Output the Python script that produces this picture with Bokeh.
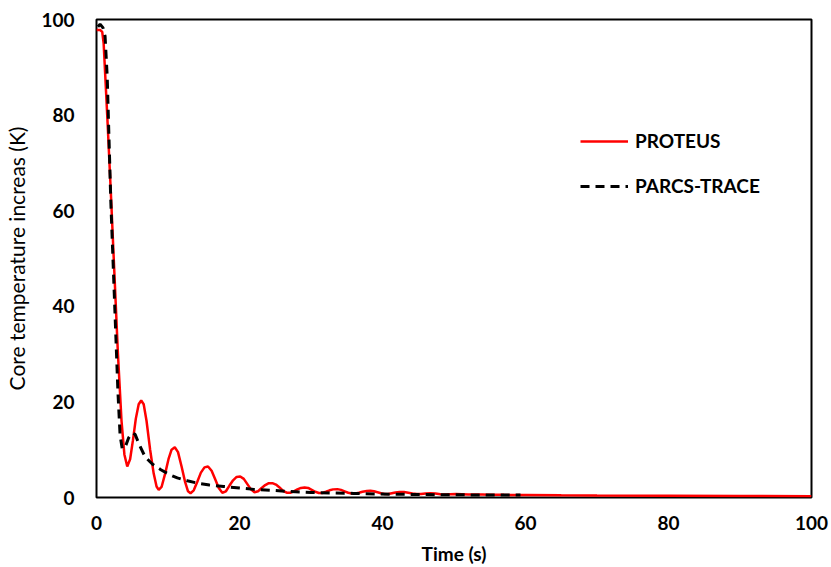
from bokeh.plotting import figure
from bokeh.models import Range1d, FixedTicker, Legend, LegendItem
from bokeh.embed import file_html
from bokeh.resources import INLINE

# PROTEUS (red solid)
proteus_t = [0, 0.5, 0.8, 1.0, 1.5, 2.0, 2.5, 3.0, 3.5, 3.9, 4.3, 4.7, 5.1, 5.5, 5.9, 6.25, 6.6,
             7.0, 7.5, 8.0, 8.4, 8.7, 9.1, 9.6, 10.1, 10.5, 10.95, 11.4, 11.9, 12.4, 12.8, 13.15,
             13.6, 14.1, 14.6, 15.1, 15.6, 16.1, 16.6, 17.1, 17.6, 18.1, 18.6, 19.1, 19.6, 20.1,
             20.6, 21.1, 21.6, 22.1, 22.6, 23.1, 23.6, 24.1, 24.6, 25.1, 25.6, 26.1, 26.6, 27.1,
             27.6, 28.1, 28.6, 29.1, 29.6, 30.1, 30.6, 31.1, 31.6, 32.1, 32.6, 33.1, 33.7, 34.2,
             34.7, 35.2, 35.7, 36.2, 36.7, 37.2, 37.8, 38.3, 38.8, 39.3, 39.8, 40.3, 40.8, 41.3,
             41.8, 42.4, 43.0, 43.6, 44.2, 44.8, 45.4, 46.0, 46.7, 47.4, 48.1, 48.8, 49.5, 50.3,
             51.1, 52, 53, 54, 55, 57, 60, 65, 70, 80, 90, 100]
proteus_v = [97.8, 97.8, 97.4, 95, 80, 64, 47, 30, 16, 9, 6.5, 8, 12, 16.5, 19.5, 20.3, 19.5,
             16, 10, 5, 2.3, 1.6, 2.2, 5, 8.2, 10, 10.5, 9.5, 6.5, 3.2, 1.3, 0.9,
             1.5, 3.3, 5.2, 6.3, 6.5, 5.6, 3.8, 2.0, 1.0, 1.3, 2.5, 3.6, 4.3, 4.4,
             3.9, 2.8, 1.7, 1.1, 1.3, 2.0, 2.6, 3.0, 3.0, 2.7, 2.1, 1.4, 1.0, 1.0,
             1.3, 1.7, 2.0, 2.1, 2.0, 1.6, 1.2, 0.95, 0.95, 1.2, 1.5, 1.7, 1.75, 1.6,
             1.3, 1.0, 0.85, 0.85, 1.0, 1.2, 1.35, 1.4, 1.3, 1.1, 0.9, 0.75, 0.75, 0.9,
             1.05, 1.15, 1.15, 1.0, 0.85, 0.72, 0.75, 0.85, 0.9, 0.85, 0.7, 0.65, 0.7, 0.75,
             0.7, 0.62, 0.62, 0.65, 0.6, 0.55, 0.52, 0.45, 0.4, 0.35, 0.3, 0.28]

# PARCS-TRACE (black dashed)
parcs_t = [0.2, 0.5, 0.9, 1.2, 1.5, 2.0, 2.5, 3.0, 3.3, 3.6, 4.0, 4.5, 5.0, 5.4, 6.0, 6.8, 7.8,
           9.0, 10.2, 11.3, 12.7, 14.1, 15.8, 17.8, 20, 22, 24.5, 27.1, 30, 33, 36, 39, 42, 45,
           48, 52, 56, 59.3]
parcs_v = [98.5, 99.0, 98.3, 96.5, 88, 62, 42, 22, 13, 10.2, 10.5, 12.5, 13.5, 13.2, 11, 8.5, 7,
           5.8, 4.8, 4.1, 3.5, 3.0, 2.6, 2.3, 2.0, 1.7, 1.5, 1.25, 1.05, 0.95, 0.85, 0.75, 0.68,
           0.62, 0.58, 0.55, 0.52, 0.5]

x_ticks = [0, 20, 40, 60, 80, 100]
y_ticks = [0, 20, 40, 60, 80, 100]

FONT = "Lato"

p = figure(width=831, height=567, output_backend="svg", toolbar_location=None,
           x_range=Range1d(0, 100), y_range=Range1d(0, 100),
           min_border_left=96, min_border_right=20, min_border_top=19, min_border_bottom=69)
p.background_fill_color = "white"
p.border_fill_color = "white"
p.outline_line_color = "black"
p.outline_line_width = 2
p.xgrid.visible = False
p.ygrid.visible = False

for ax, ticks in ((p.xaxis[0], x_ticks), (p.yaxis[0], y_ticks)):
    ax.ticker = FixedTicker(ticks=ticks)
    ax.axis_line_color = None
    ax.major_tick_line_color = None
    ax.minor_tick_line_color = None
    ax.major_tick_out = 0
    ax.major_tick_in = 0
    ax.major_label_text_font = FONT
    ax.major_label_text_font_style = "bold"
    ax.major_label_text_font_size = "19px"
    ax.major_label_text_color = "black"
    ax.axis_label_text_font = FONT
    ax.axis_label_text_color = "black"

p.xaxis.major_label_standoff = 18
p.xaxis.axis_label = "Time (s)"
p.xaxis.axis_label_text_font_style = "bold"
p.xaxis.axis_label_text_font_size = "19px"
p.xaxis.axis_label_standoff = 9
p.yaxis.major_label_standoff = 22
p.yaxis.axis_label = "Core temperature increas (K)"
p.yaxis.axis_label_text_font_style = "normal"
p.yaxis.axis_label_text_font_size = "21px"
p.yaxis.axis_label_standoff = 9

r1 = p.line(proteus_t, proteus_v, line_color="#FF0000", line_width=2.5)
r2 = p.line(parcs_t, parcs_v, line_color="black", line_width=3, line_dash="9 6")

legend = Legend(items=[LegendItem(label="PROTEUS", renderers=[r1]),
                       LegendItem(label="PARCS-TRACE", renderers=[r2])],
                location=(484, 300), orientation="vertical")
legend.border_line_color = None
legend.background_fill_alpha = 0
legend.label_text_font = FONT
legend.label_text_font_style = "bold"
legend.label_text_font_size = "19px"
legend.label_text_color = "black"
legend.glyph_width = 48
legend.glyph_height = 20
legend.label_height = 20
legend.label_standoff = 7
legend.spacing = 22
legend.padding = 0
legend.margin = 0
p.add_layout(legend, "center")

open("out.html", "w").write(file_html(p, INLINE))
